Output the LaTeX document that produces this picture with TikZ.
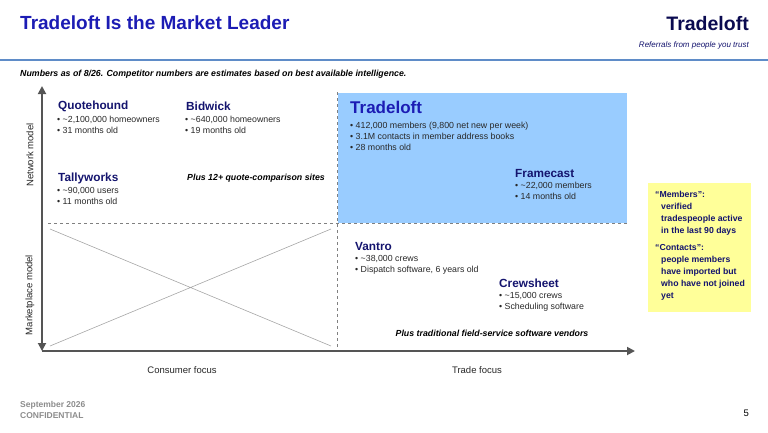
\documentclass[tikz,border=0pt]{standalone}
\usepackage{fontspec}
\setmainfont{Liberation Sans}
\usetikzlibrary{arrows.meta,positioning}
\definecolor{titleblue}{RGB}{28,28,180}
\definecolor{navy}{RGB}{20,20,110}
\definecolor{logonavy}{RGB}{10,10,80}
\definecolor{boxblue}{RGB}{153,204,255}
\definecolor{noteyellow}{RGB}{255,255,153}
\definecolor{axisgray}{RGB}{85,85,85}
\definecolor{facttext}{RGB}{40,40,40}
\definecolor{rulecol}{RGB}{95,140,200}

\begin{document}
\begin{tikzpicture}[x=1pt,y=-1pt,
  firm/.style={anchor=west,inner sep=0,text=navy,font=\bfseries\fontsize{11.8}{13}\selectfont},
  facts/.style={anchor=north west,inner sep=0,align=left,text=facttext,font=\fontsize{8.8}{11.2}\selectfont},
  remark/.style={inner sep=0,font=\bfseries\itshape\fontsize{8.8}{10}\selectfont},
  axislabel/.style={inner sep=0,text=black!85,font=\fontsize{9.5}{11}\selectfont},
  axis/.style={draw=axisgray,line width=1.8pt,arrows={-Triangle[length=8pt,width=8pt]}},
  split/.style={draw=gray,dashed,line width=.8pt},
  footer/.style={anchor=west,inner sep=0,text=black!45,font=\bfseries\fontsize{8.5}{9}\selectfont}]

\useasboundingbox (0,0) rectangle (768,432);

% header
\node[anchor=west,inner sep=0,text=titleblue,font=\bfseries\fontsize{19}{22}\selectfont] (title) at (20,23) {Tradeloft Is the Market Leader};
\node[anchor=east,inner sep=0,text=logonavy,font=\bfseries\fontsize{19.5}{22}\selectfont] (logo) at (749,24) {Tradeloft};
\node[anchor=east,inner sep=0,text=navy,font=\itshape\fontsize{8}{10}\selectfont] (tagline) at (749,45) {Referrals from people you trust};
\draw[rulecol,line width=2.2pt] (0,60) -- (768,60);
\node[remark,anchor=west] (asof) at (20,74) {Numbers as of 8/26. Competitor numbers are estimates based on best available intelligence.};

% quadrants
\fill[boxblue] (338,93) rectangle (627,223);
\draw[black!35,line width=.6pt] (50,229) -- (331,346) (50,346) -- (331,229);
\draw[split] (48,223) -- (627,223);
\draw[split] (337,92) -- (337,350);

\coordinate (origin) at (42,351);
\coordinate (ytop) at (42,86);
\coordinate (xend) at (635,351);
\draw[axis,arrows={Triangle[length=8pt,width=8pt]-Triangle[length=8pt,width=8pt]}] (ytop) -- (origin);
\draw[axis] (origin) -- (xend);

\node[axislabel,rotate=90] (network) at (30,155) {Network model};
\node[axislabel,rotate=90] (market) at (30,295) {Marketplace model};
\node[axislabel] (consumer) at (182,370) {Consumer focus};
\node[axislabel] (trade) at (477,370) {Trade focus};

% competitors
\node[firm] (quotehound) at (58,106) {Quotehound};
\node[facts] (quotehoundfacts) at (57,116) {• \textasciitilde2,100,000 homeowners\\• 31 months old};
\node[firm] (bidwick) at (186,106) {Bidwick};
\node[facts] (bidwickfacts) at (185,116) {• \textasciitilde640,000 homeowners\\• 19 months old};
\node[firm] (tallyworks) at (58,178) {Tallyworks};
\node[facts] (tallyworksfacts) at (57,187) {• \textasciitilde90,000 users\\• 11 months old};
\node[remark,anchor=west] (quotesites) at (187,178) {Plus 12+ quote-comparison sites};

\node[firm,text=titleblue,font=\bfseries\fontsize{17}{20}\selectfont] (tradeloft) at (350,107) {Tradeloft};
\node[facts] (tradeloftfacts) at (350,122) {• 412,000 members (9,800 net new per week)\\• 3.1M contacts in member address books\\• 28 months old};
\node[firm] (framecast) at (515,173) {Framecast};
\node[facts] (framecastfacts) at (515,182) {• \textasciitilde22,000 members\\• 14 months old};

\node[firm] (vantro) at (355,246) {Vantro};
\node[facts] (vantrofacts) at (355,255) {• \textasciitilde38,000 crews\\• Dispatch software, 6 years old};
\node[firm] (crewsheet) at (499,283) {Crewsheet};
\node[facts] (crewsheetfacts) at (499,292) {• \textasciitilde15,000 crews\\• Scheduling software};
\node[remark] (fieldservice) at (492,333) {Plus traditional field-service software vendors};

% definitions
\fill[noteyellow] (648,183) rectangle (751,312);
\node[anchor=north west,inner sep=0,align=left,text=navy,font=\bfseries\fontsize{8.7}{12}\selectfont] (defs) at (655,191)
  {“Members”:\\\hspace*{6pt}verified\\\hspace*{6pt}tradespeople active\\\hspace*{6pt}in the last 90 days\\[5pt]
   “Contacts”:\\\hspace*{6pt}people members\\\hspace*{6pt}have imported but\\\hspace*{6pt}who have not joined\\\hspace*{6pt}yet};

% footer
\node[footer] (date) at (20,405) {September 2026};
\node[footer] (conf) at (20,416) {CONFIDENTIAL};
\node[anchor=east,inner sep=0,font=\fontsize{9.5}{11}\selectfont] (page) at (749,413) {5};
\end{tikzpicture}
\end{document}
